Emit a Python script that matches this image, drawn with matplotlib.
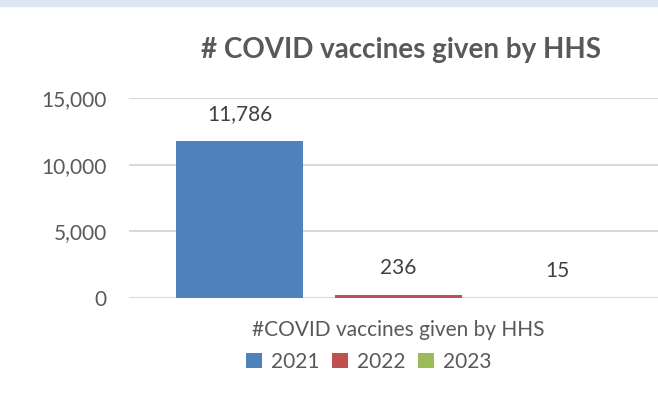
import matplotlib
matplotlib.use("Agg")
import matplotlib.pyplot as plt
from matplotlib.patches import Rectangle, Patch

series = ["2021", "2022", "2023"]
values = [11786, 236, 15]
colors = ["#4F81BD", "#C0504D", "#9BBB59"]
category = "#COVID vaccines given by HHS"
title = "# COVID vaccines given by HHS"
yticks = [0, 5000, 10000, 15000]

W, H = 658, 401
plt.rcParams['font.family'] = ['Lato', 'DejaVu Sans']
txt = "#595959"

fig = plt.figure(figsize=(W / 100, H / 100), dpi=100)
fig.patches.append(Rectangle((0, (H - 6) / H), 1, 6 / H, transform=fig.transFigure,
                             color="#DCE6F2", zorder=0))

ax = fig.add_axes([129 / W, (H - 298) / H, (658 - 129) / W, 200 / H])
xs = list(range(len(values)))
ax.bar(xs, values, width=0.8, color=colors, zorder=3)
ax.set_ylim(0, 15000)
ax.set_xlim(-0.695, 2.632)
ax.set_yticks(yticks)
ax.set_yticklabels([f"{v:,}" for v in yticks])
ax.yaxis.grid(True, color="#D9D9D9", linewidth=1.5, zorder=0)
ax.set_axisbelow(True)
for s in ax.spines.values():
    s.set_visible(False)
ax.tick_params(axis="y", length=0, pad=16, labelsize=15, labelcolor=txt)
ax.set_xticks([1])
ax.set_xticklabels([category])
ax.tick_params(axis="x", length=0, pad=16, labelsize=15, labelcolor=txt)

for x, v in zip(xs, values):
    ax.annotate(f"{v:,}", (x, v), xytext=(0, 12), textcoords="offset points",
                ha="center", va="bottom", fontsize=15, color="#404040")

fig.text(401 / W, 1 - 50 / H, title, ha="center", va="center", fontsize=20,
         fontweight="bold", color=txt)

handles = [Patch(facecolor=c, edgecolor="none") for c in colors]
fig.legend(handles, series, loc="center", bbox_to_anchor=(369 / W, 1 - 362 / H),
           ncol=3, frameon=False, fontsize=15, labelcolor=txt, handlelength=0.75,
           handleheight=0.75, handletextpad=0.45, columnspacing=0.6)

fig.savefig("out.png", dpi=100)
